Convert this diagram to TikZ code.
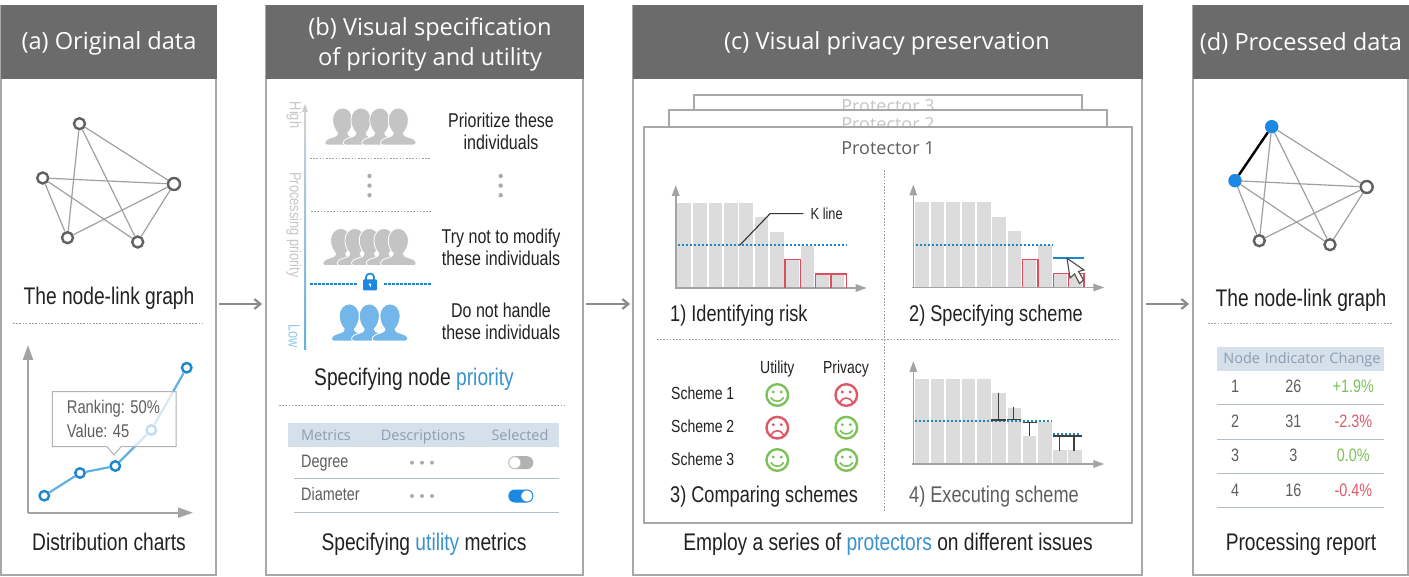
\documentclass[tikz,border=0pt]{standalone}
\usepackage{fontspec}
\setmainfont{Liberation Sans}
\newfontfamily\condf[FakeStretch=0.80]{Liberation Sans}
\newfontfamily\hdrf{Open Sans}
\usetikzlibrary{arrows.meta}
\definecolor{hdrgray}{HTML}{6B6B6B}
\definecolor{panelline}{HTML}{A8A8A8}
\definecolor{edgegray}{HTML}{A0A0A0}
\definecolor{nodegray}{HTML}{616161}
\definecolor{axisgray}{HTML}{A3A3A3}
\definecolor{bargray}{HTML}{DCDCDC}
\definecolor{chartblue}{HTML}{62B0E0}
\definecolor{ptblue}{HTML}{1C86CC}
\definecolor{txtblue}{HTML}{3A92CE}
\definecolor{vivid}{HTML}{1B88E3}
\definecolor{persongray}{HTML}{C4C4C4}
\definecolor{personblue}{HTML}{72B6EA}
\definecolor{thead}{HTML}{D6E0EA}
\definecolor{theadtxt}{HTML}{8C9DB2}
\definecolor{trule}{HTML}{B4BEC6}
\definecolor{goodg}{HTML}{7CC15A}
\definecolor{badr}{HTML}{DC5A68}
\definecolor{redbar}{HTML}{D9505C}
\definecolor{body}{HTML}{222222}
\definecolor{soft}{HTML}{5E5E5E}
\tikzset{
  x=1pt,y=-1pt,
  panel/.style={draw=panelline,line width=1.5pt,fill=white,inner sep=0pt},
  hdrbox/.style={fill=hdrgray,inner sep=0pt},
  hdrtxt/.style={text=white,font=\hdrf\fontsize{23.6}{30}\selectfont,align=center,inner sep=0pt},
  lbl/.style={text=body,font=\condf\fontsize{24}{27}\selectfont,inner sep=0pt,text height=17pt,text depth=3pt},
  stepl/.style={lbl,font=\condf\fontsize{22.7}{25}\selectfont},
  lblsm/.style={text=body,font=\condf\fontsize{20}{22}\selectfont,align=center,inner sep=0pt},
  lbltx/.style={text=soft,font=\condf\fontsize{18.4}{22}\selectfont,inner sep=0pt},
  sch/.style={text=body,font=\condf\fontsize{17.5}{20}\selectfont,inner sep=0pt,text height=13pt,text depth=3pt},
  theadt/.style={text=theadtxt,font=\hdrf\fontsize{14.5}{17}\selectfont,inner sep=0pt,text height=14pt,text depth=4pt},
  cell/.style={text=soft,font=\condf\fontsize{18}{20}\selectfont,inner sep=0pt,text height=13pt,text depth=3pt},
  sidelbl/.style={rotate=-90,text=gray!45,font=\condf\fontsize{16}{18}\selectfont,inner sep=0pt},
  sepline/.style={draw=gray!75,line width=1pt,dash pattern=on 1.6pt off 1.6pt},
  flow/.style={draw=gray!90,line width=2.2pt,-{Straight Barb[length=6pt,width=10pt]}},
  axisline/.style={draw=axisgray,line width=1.6pt,-{Triangle[length=11pt,width=7.5pt]}},
  bigaxis/.style={draw=axisgray,line width=2pt,-{Triangle[length=15pt,width=10pt]}},
  gnode/.style={circle,draw=nodegray,line width=2.4pt,fill=white,minimum size=11pt,inner sep=0pt},
  fnode/.style={circle,fill=vivid,minimum size=13.5pt,inner sep=0pt},
  gedge/.style={draw=edgegray,line width=1.2pt},
  cpt/.style={circle,draw=ptblue,line width=2.4pt,fill=white,minimum size=9.5pt,inner sep=0pt},
  kline/.style={draw=ptblue,line width=2pt,dash pattern=on 2pt off 2pt},
  tmark/.style={draw=black!75,line width=1.3pt},
  stackbox/.style={draw=panelline,line width=1.2pt,fill=white,inner sep=0pt},
  stacktxt/.style={text=gray!45,font=\hdrf\fontsize{18}{20}\selectfont,inner sep=0pt},
  lockrule/.style={draw=ptblue,line width=1.1pt,dash pattern=on 3pt off 1pt},
}
\newcommand\person[3]{%
  \begin{scope}[shift={(#1,#2)}]
  \path[draw=white,line width=.8pt,fill=#3]
   (-15,0) .. controls (-19,0) and (-18.5,-4) .. (-15,-6)
   .. controls (-11,-8) and (-5,-8) .. (-5,-12)
   .. controls (-8,-15) and (-10,-20) .. (-10,-25)
   .. controls (-10,-33) and (-5,-37) .. (0,-37)
   .. controls (5,-37) and (10,-33) .. (10,-25)
   .. controls (10,-20) and (8,-15) .. (5,-12)
   .. controls (5,-8) and (11,-8) .. (15,-6)
   .. controls (18.5,-4) and (19,0) .. (15,0) -- cycle;
  \end{scope}}
\newcommand\graydots[3]{%
  \foreach \k in {0,1,2}{\fill[gray!65] ({#1+\k*#3},{#2}) circle (2pt);}}
\newcommand\vdotsg[3]{%
  \foreach \k in {0,1,2}{\fill[gray!65] ({#1},{#2+\k*#3}) circle (2.2pt);}}
\newcommand\barsbase[2]{%
  \begin{scope}[shift={(#1,#2)}]
  \foreach \l/\h in {1.7/85,17.3/85,33/85,48.3/85,63.7/85,79/70.7,94.3/56.3,109.3/28.3,125/42.3,140/14,155/14}
    {\fill[bargray] (\l,0) rectangle ++(13.7,-\h);}
  \draw[axisline] (0,1) -- (0,-103);
  \draw[axisline] (-1,0) -- (191,0);
  \end{scope}}
\newcommand\redbars[2]{%
  \begin{scope}[shift={(#1,#2)}]
  \foreach \l/\w/\h in {109.3/15.3/28.3,140/15.3/14,155.3/15.3/14}
    {\draw[redbar,line width=1.2pt] (\l,0) -- ++(0,-\h) -- ++(\w,0) -- ++(0,\h);}
  \end{scope}}
\newcommand\smileface[3]{%
  \begin{scope}[shift={(#1,#2)}]
  \draw[#3,line width=2.4pt] (0,0) circle (10.8pt);
  \fill[#3] (-4,-3) circle (1.6pt) (4,-3) circle (1.6pt);
  \draw[#3,line width=1.6pt] (-6.5,2.5) .. controls (-3.5,7.5) and (3.5,7.5) .. (6.5,2.5);
  \end{scope}}
\newcommand\frownface[3]{%
  \begin{scope}[shift={(#1,#2)}]
  \draw[#3,line width=2.4pt] (0,0) circle (10.8pt);
  \fill[#3] (-4,-3) circle (1.6pt) (4,-3) circle (1.6pt);
  \draw[#3,line width=1.6pt] (-6.5,7.5) .. controls (-3.5,1.5) and (3.5,1.5) .. (6.5,7.5);
  \end{scope}}
\begin{document}
\begin{tikzpicture}
\useasboundingbox (0,0) rectangle (1409,577);
\fill[white] (0,0) rectangle (1409,577);

% ---- panels
\node[panel,minimum width=215pt,minimum height=569pt] (pa) at (108.5,290.5) {};
\node[panel,minimum width=317pt,minimum height=569pt] (pb) at (424.5,290.5) {};
\node[panel,minimum width=509pt,minimum height=569pt] (pc) at (887.5,290.5) {};
\node[panel,minimum width=215pt,minimum height=569pt] (pd) at (1300.5,290.5) {};
\node[hdrbox,minimum width=216pt,minimum height=74pt] (ha) at (108.5,42.5) {};
\node[hdrbox,minimum width=318pt,minimum height=74pt] (hb) at (424.5,42.5) {};
\node[hdrbox,minimum width=510pt,minimum height=74pt] (hc) at (887.5,42.5) {};
\node[hdrbox,minimum width=216pt,minimum height=74pt] (hd) at (1300.5,42.5) {};
\node[hdrtxt] (ta) at (109,43) {(a) Original data};
\node[hdrtxt] (tb) at (430,44) {(b) Visual specification\\of priority and utility};
\node[hdrtxt] (tc) at (887,43) {(c) Visual privacy preservation};
\node[hdrtxt] (td) at (1301,43) {(d) Processed data};

% ---- panel arrows
\coordinate (ab) at (219,304); \coordinate (ab2) at (262,304);
\coordinate (bc) at (586,304); \coordinate (bc2) at (630,304);
\coordinate (cd) at (1146,304); \coordinate (cd2) at (1189,304);
\draw[flow] (ab) -- (ab2);
\draw[flow] (bc) -- (bc2);
\draw[flow] (cd) -- (cd2);

% ---- (a) graph
\node[gnode] (a1) at (79.5,123.7) {};
\node[gnode] (a2) at (42.7,178) {};
\node[gnode,minimum size=12pt] (a3) at (174,184) {};
\node[gnode] (a4) at (67.5,237.7) {};
\node[gnode] (a5) at (137.7,242) {};
\foreach \p/\q in {a1/a4,a1/a5,a1/a3,a2/a3,a2/a4,a2/a5,a3/a4,a3/a5}{\draw[gedge] (\p) -- (\q);}
\node[lbl] (la1) at (109,298) {The node-link graph};
\draw[sepline] (13,324) -- (203,324);

% ---- (a) chart
\coordinate (ao) at (28,512.7);
\coordinate (ay) at (28,345);
\coordinate (ax) at (193,512.7);
\draw[bigaxis] (ao) -- (ay);
\draw[bigaxis] (ao) -- (ax);
\node[cpt] (c1) at (44.3,495.7) {};
\node[cpt] (c2) at (80,473) {};
\node[cpt] (c3) at (115.3,466) {};
\node[cpt] (c4) at (151.3,430) {};
\node[cpt] (c5) at (186.7,367.7) {};
\foreach \p/\q in {c1/c2,c2/c3,c3/c4,c4/c5}{\draw[chartblue,line width=2.2pt] (\p) -- (\q);}
\path[draw=gray!60,line width=1pt,fill=white,fill opacity=.72]
  (52.3,391.7) -- (176,391.7) -- (176,446.7) -- (121,446.7) -- (114,455) -- (107,446.7) -- (52.3,446.7) -- cycle;
\node[lbltx,anchor=west] (tt1) at (66.7,409) {Ranking: 50\%};
\node[lbltx,anchor=west] (tt2) at (66.7,431) {Value: 45};
\node[lbl] (la2) at (109,543) {Distribution charts};

% ---- (b) priority
\shade[top color=gray!35,bottom color=chartblue] (304.2,112) rectangle (306,350);
\fill[gray!40] (302,112) -- (305,104) -- (308,112) -- cycle;
\node[sidelbl] (pr1) at (294,115) {High};
\node[sidelbl] (pr2) at (294,225) {Processing priority};
\node[sidelbl,text=chartblue!70] (pr3) at (294,336) {Low};

\foreach \x in {342.7,361,379.7,398.3}{\person{\x}{145}{persongray}}
\foreach \x in {340.7,355,369.3,384,398.3}{\person{\x}{265.5}{persongray}}
\foreach \x in {349.3,369.3,390}{\person{\x}{341}{personblue}}

\draw[sepline] (310,159) -- (431,159);
\draw[sepline] (311,212) -- (432,212);
\vdotsg{369.5}{176}{9.6}
\vdotsg{500.7}{176}{9.6}
\draw[lockrule] (310,284) -- (357,284);
\draw[lockrule] (384,284) -- (431,284);
\draw[vivid,line width=1.7pt] (366,280) -- (366,277) .. controls (366,272.5) and (374,272.5) .. (374,277) -- (374,280);
\fill[vivid,rounded corners=.8pt] (363.2,279.3) rectangle (376.8,290.3);
\fill[white] (370,284.5) circle (1.3pt);
\draw[white,line width=.8pt] (370,284.5) -- (370,287);

\node[lblsm] (pt1) at (501,131) {Prioritize these\\individuals};
\node[lblsm] (pt2) at (501,247) {Try not to modify\\these individuals};
\node[lblsm] (pt3) at (501,321.5) {Do not handle\\these individuals};
\node[lbl] (lb1) at (414,379) {Specifying node \textcolor{txtblue}{priority}};
\draw[sepline] (279,405) -- (566,405);

% ---- (b) metrics table
\fill[thead] (288,423) rectangle (559,447);
\node[theadt] (m1) at (326,435) {Metrics};
\node[theadt] (m2) at (423,435) {Descriptions};
\node[theadt] (m3) at (520,435) {Selected};
\node[cell,anchor=west] (m4) at (301,462) {Degree};
\node[cell,anchor=west] (m5) at (301,495.7) {Diameter};
\graydots{412}{462.7}{10}
\graydots{412}{496}{10}
\fill[gray!60,rounded corners=6.5pt] (508.3,456.2) rectangle (533.3,469.2);
\draw[gray!50,fill=white,line width=.8pt] (514.8,462.7) circle (6pt);
\fill[vivid,rounded corners=6.5pt] (508.3,489.5) rectangle (533.3,502.5);
\draw[vivid,fill=white,line width=.8pt] (526.8,496) circle (6pt);
\draw[trule,line width=1.2pt] (294,478.7) -- (559,478.7);
\draw[trule,line width=1.2pt] (294,512.7) -- (559,512.7);
\node[lbl] (lb2) at (424,543) {Specifying \textcolor{txtblue}{utility} metrics};

% ---- (c) stacked protectors
\node[stackbox,minimum width=388pt,minimum height=20pt] (s3) at (888,105) {};
\node[stacktxt] (s3t) at (888,106) {Protector 3};
\node[stackbox,minimum width=438pt,minimum height=24pt] (s2) at (888,122) {};
\node[stacktxt] (s2t) at (888,124) {Protector 2};
\node[stackbox,line width=1.5pt,minimum width=488pt,minimum height=396pt] (s1) at (888,325) {};
\node[stacktxt,text=soft] (s1t) at (888,148) {Protector 1};
\draw[sepline] (884,170) -- (884,512);
\draw[sepline] (657,340) -- (1120,340);

% ---- chart 1
\barsbase{675.7}{288}
\redbars{675.7}{288}
\draw[kline] (678,245) -- (847,245);
\coordinate (klb) at (770,213.7);
\coordinate (kla) at (740,245);
\coordinate (klc) at (803.3,213.7);
\node[sch,anchor=west,font=\condf\fontsize{16}{18}\selectfont] (kt) at (810.5,215) {K line};
\draw[black!80,line width=1.1pt] (kla) -- (klb) -- (klc);
\node[stepl,anchor=west] (s1l) at (670,315) {1) Identifying risk};

% ---- chart 2
\barsbase{913.3}{287.5}
\redbars{913.3}{287.5}
\draw[kline] (915.5,245) -- (1052,245);
\draw[ptblue,line width=2pt] (1052.7,258.3) -- (1084.3,258.3);
\path[draw=black!70,line width=1.1pt,fill=white] (1067,258.3) -- (1070,278) -- (1074.5,274) -- (1079.5,283.5) -- (1083.5,280) -- (1078.5,271.5) -- (1084,270) -- cycle;
\node[stepl,anchor=west] (s2l) at (909,315) {2) Specifying scheme};

% ---- schemes
\node[sch] (u) at (777.3,368.3) {Utility};
\node[sch] (v) at (846,368.3) {Privacy};
\node[sch,anchor=west] (sc1) at (671,394.3) {Scheme 1};
\node[sch,anchor=west] (sc2) at (671,427.7) {Scheme 2};
\node[sch,anchor=west] (sc3) at (671,460) {Scheme 3};
\smileface{777.3}{395}{goodg}
\frownface{846.3}{395}{badr}
\frownface{777.3}{427.7}{badr}
\smileface{846.3}{427.7}{goodg}
\smileface{777.3}{460}{goodg}
\smileface{846.3}{460}{goodg}
\node[stepl,anchor=west] (s3l) at (670,495) {3) Comparing schemes};

% ---- chart 4
\barsbase{913.3}{464}
\draw[kline] (915,421) -- (1052,421);
\draw[kline] (1053,434) -- (1081,434);
\draw[tmark] (998.3,392.7) -- (998.3,420);
\draw[tmark] (991,420) -- (1005.7,420);
\draw[tmark] (1013.3,407.3) -- (1013.3,419.5);
\draw[tmark] (1007,419.5) -- (1021,419.5);
\draw[tmark] (1029.3,422.7) -- (1029.3,436);
\draw[tmark] (1022.5,422.7) -- (1036.5,422.7);
\draw[tmark] (1059.7,436) -- (1059.7,450.7);
\draw[tmark] (1074,436) -- (1074,450.7);
\draw[tmark] (1052.7,436) -- (1081.7,436);
\node[stepl,anchor=west,text=soft] (s4l) at (909,495) {4) Executing scheme};

\node[lbl] (lc) at (888,543) {Employ a series of \textcolor{txtblue}{protectors} on different issues};

% ---- (d) graph
\node[fnode] (d1) at (1271.7,126.7) {};
\node[fnode] (d2) at (1235,180.7) {};
\node[gnode,minimum size=12pt] (d3) at (1366.7,187) {};
\node[gnode] (d4) at (1259.3,240.7) {};
\node[gnode] (d5) at (1330,244.7) {};
\foreach \p/\q in {d1/d4,d1/d5,d1/d3,d2/d3,d2/d4,d2/d5,d3/d4,d3/d5}{\draw[gedge] (\p) -- (\q);}
\draw[black,line width=2.4pt] (d1) -- (d2);
\node[lbl] (ld1) at (1301,300) {The node-link graph};
\draw[sepline] (1208,324) -- (1393,324);

% ---- (d) table
\fill[thead] (1216.7,346.7) rectangle (1383.7,370.7);
\node[theadt] (h1) at (1241.7,359) {Node};
\node[theadt] (h2) at (1295,359) {Indicator};
\node[theadt] (h3) at (1355,359) {Change};
\node[cell] (r11) at (1235,387.7) {1};
\node[cell] (r12) at (1293.3,387.7) {26};
\node[cell,text=goodg] (r13) at (1353.3,387.7) {+1.9\%};
\node[cell] (r21) at (1235,422.3) {2};
\node[cell] (r22) at (1293.3,422.3) {31};
\node[cell,text=badr] (r23) at (1353.3,422.3) {-2.3\%};
\node[cell] (r31) at (1235,456.7) {3};
\node[cell] (r32) at (1293.3,456.7) {3};
\node[cell,text=goodg] (r33) at (1353.3,456.7) {0.0\%};
\node[cell] (r41) at (1235,491.7) {4};
\node[cell] (r42) at (1293.3,491.7) {16};
\node[cell,text=badr] (r43) at (1353.3,491.7) {-0.4\%};
\foreach \yy in {404.3,439.3,473.3,507.7}{\draw[trule,line width=1.2pt] (1216.7,\yy) -- (1383.7,\yy);}
\node[lbl] (ld2) at (1301,543) {Processing report};
\end{tikzpicture}
\end{document}
